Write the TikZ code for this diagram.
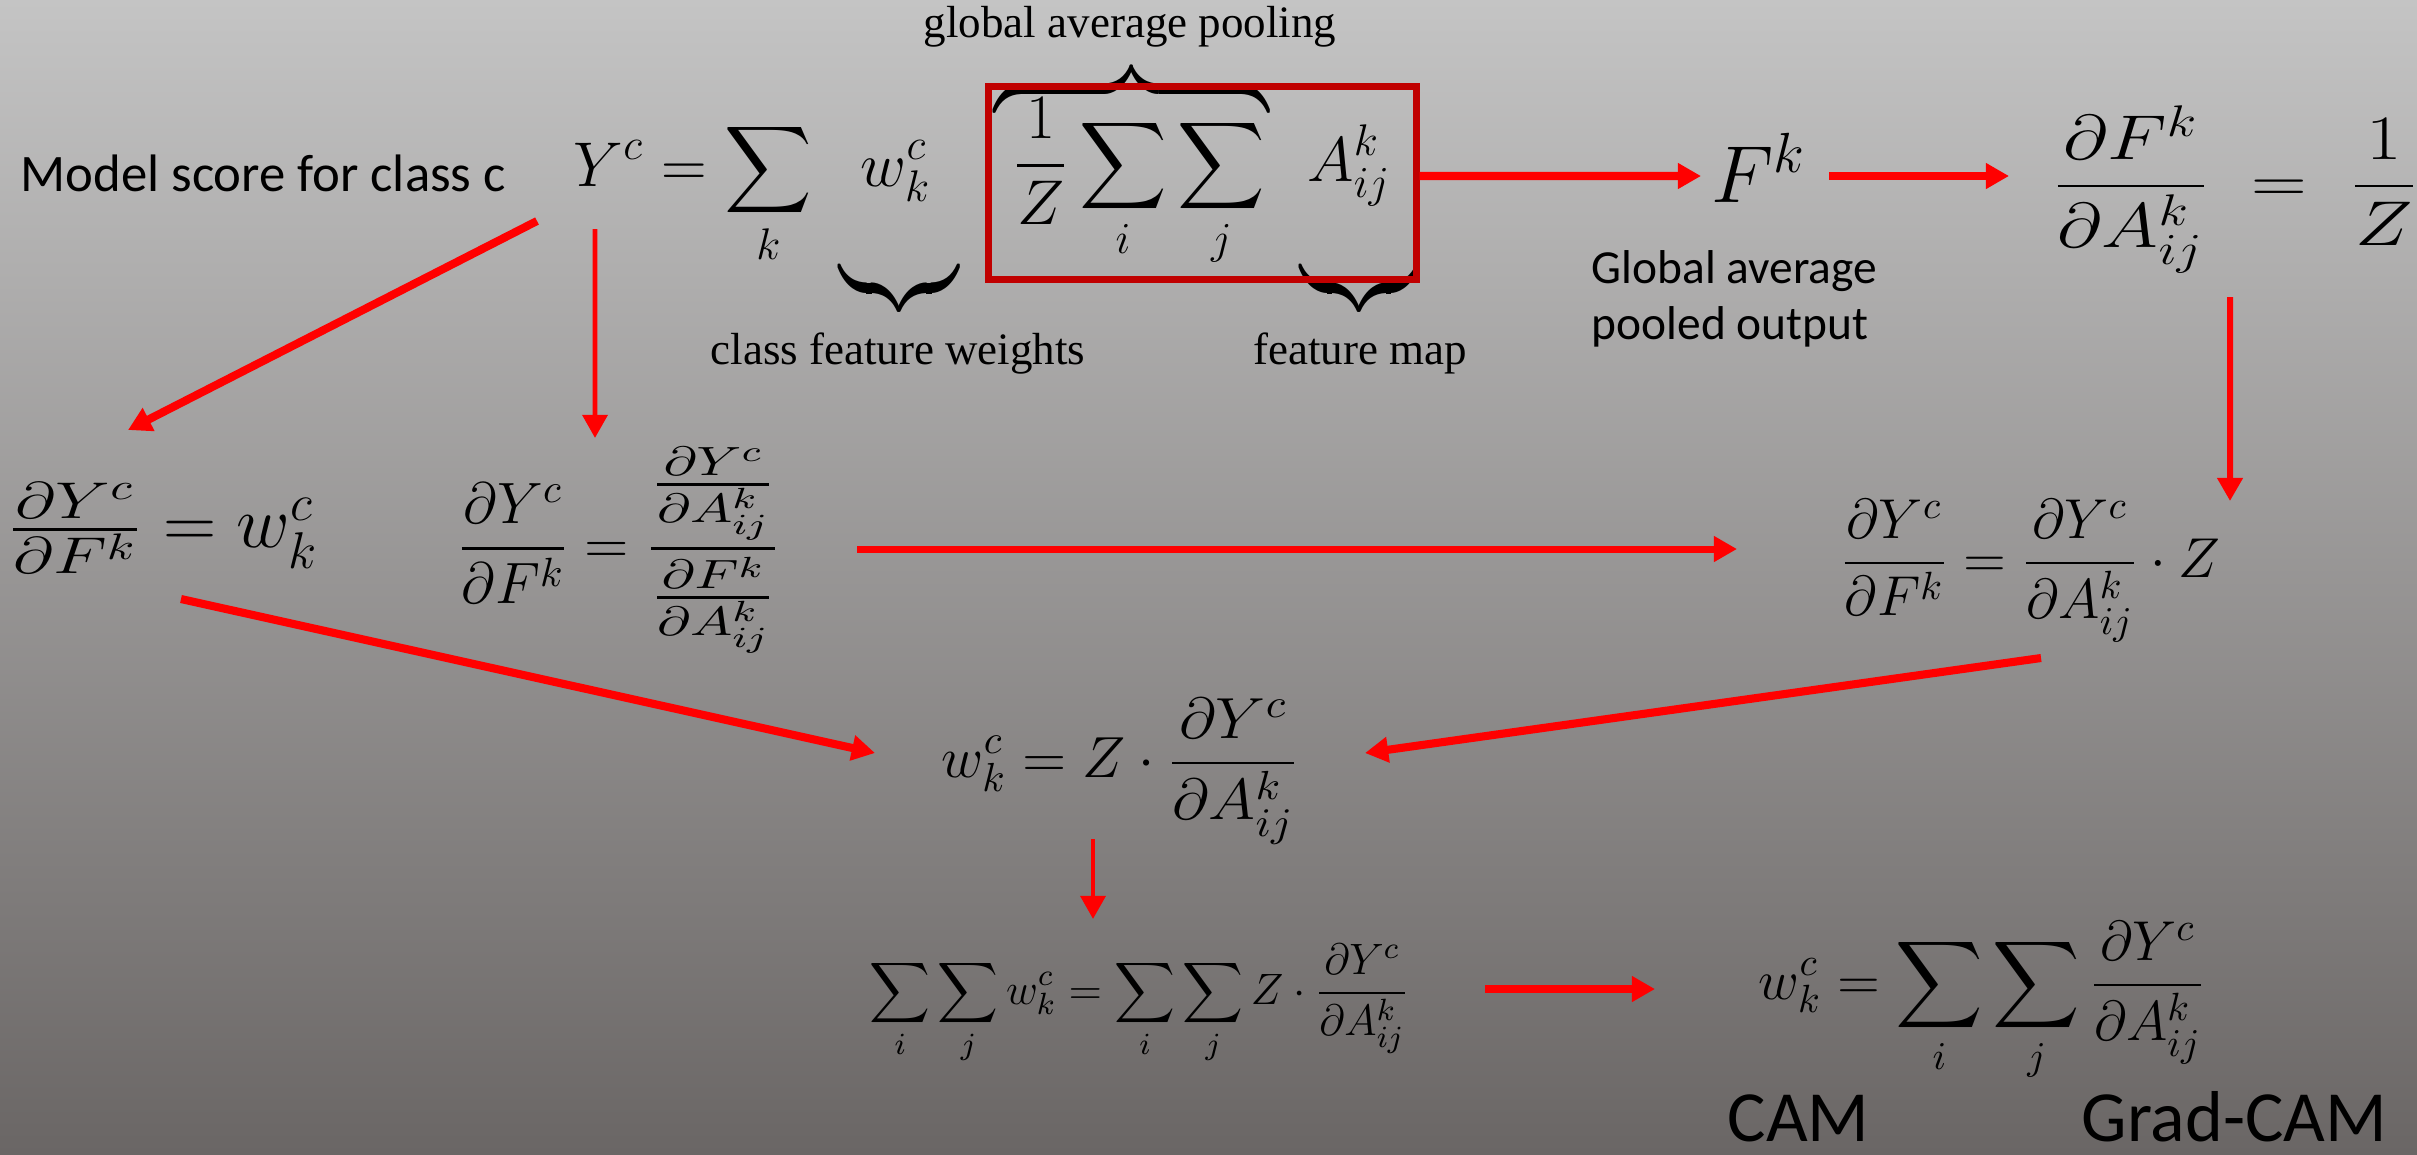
\RequirePackage{fix-cm}
\documentclass[tikz,border=0pt]{standalone}
\usepackage{amsmath}
\usepackage[no-math]{fontspec}
\newfontfamily\calibrif{Carlito}
\newfontfamily\timesf{Liberation Serif}
\usepackage{tikz}
\usetikzlibrary{arrows.meta,positioning,calc}
\definecolor{CamRed}{HTML}{FF0000}
\definecolor{CamBox}{HTML}{C00000}
\definecolor{CamTop}{HTML}{C4C4C4}
\definecolor{CamMid}{HTML}{9D9D9D}
\definecolor{CamBot}{HTML}{6A6665}

\begin{document}
\begin{tikzpicture}[
  every node/.style={inner sep=0pt},
  lbl/.style={font=\calibrif\fontsize{15}{18}\selectfont},
  note/.style={font=\timesf\fontsize{12.8}{15}\selectfont},
  tag/.style={font=\calibrif\fontsize{20.5}{24}\selectfont},
  eq/.style={font=\fontsize{#1}{#1}\selectfont},
  brace/.style={font=\fontsize{18}{22}\selectfont},
  poolbox/.style={draw=CamBox, line width=2pt, minimum width=4.28cm,
                  minimum height=1.93cm, font=\fontsize{18}{22}\selectfont},
  arr/.style={draw=CamRed, line width=2.3pt,
              -{Triangle[length=6.6pt,width=7pt]}},
  arrthin/.style={arr, line width=1.4pt}
]

% background
\shade[top color=CamTop, middle color=CamMid, bottom color=CamBot]
  (0,0) rectangle (24.17,-11.54);
\useasboundingbox (0,0) rectangle (24.17,-11.54);

% model score row
\node[lbl, anchor=base west] (score) at (0.20,-1.91) {Model score for class c};
\node[eq=18, anchor=base west] (yc) at (5.73,-1.86)
  {$\displaystyle Y^c = \sum_k \hspace{0.6em} w^c_k$};

% braces and their notes
\node[brace, anchor=south] (bpool) at (11.315,-1.10)
  {\scalebox{1}[1.45]{$\overbrace{\hspace{2.75cm}}$}};
\node[brace, anchor=north] (bw) at (8.99,-2.67)
  {\scalebox{1}[1.45]{$\underbrace{\hspace{1.2cm}}$}};
\node[brace, anchor=north] (ba) at (13.59,-2.67)
  {\scalebox{1}[1.45]{$\underbrace{\hspace{1.18cm}}$}};
\node[note, anchor=base] (gap) at (11.30,-0.37) {global average pooling};
\node[note, anchor=base] (cfw) at (8.98,-3.64) {class feature weights};
\node[note, anchor=base] (fmap) at (13.60,-3.64) {feature map};

% pooled term
\node[poolbox] (pool) at (12.02,-1.83)
  {$\displaystyle \frac{1}{Z}\sum_i\sum_j \hspace{0.5em} A^k_{ij}$};

\node[eq=23, anchor=base west] (fk) at (17.11,-2.02) {$F^k$};
\node[eq=18, anchor=base west] (dfda) at (20.52,-2.02)
  {\scalebox{1.22}[1]{$\displaystyle \frac{\partial F^k}{\partial A^k_{ij}} \;=\; \frac{1}{Z}$}};
\node[lbl, font=\calibrif\fontsize{13.5}{15.9}\selectfont, anchor=north west,
      align=left] (gapout) at (15.91,-2.50) {Global average\\pooled output};

% gradients
\node[eq=21, anchor=base west] (dydf1) at (0.07,-5.475)
  {$\scalebox{1.35}[1]{$\tfrac{\partial Y^c}{\partial F^k}$} = w^c_k$};
\node[eq=16.6, anchor=base west] (dydf2) at (4.57,-5.63)
  {$\displaystyle \frac{\partial Y^c}{\partial F^k} =
    \scalebox{1.38}[1]{$\displaystyle
      \frac{\frac{\partial Y^c}{\partial A^k_{ij}}}{\frac{\partial F^k}{\partial A^k_{ij}}}$}$};
\node[eq=16, anchor=base west] (dydf3) at (18.40,-5.77)
  {$\displaystyle \frac{\partial Y^c}{\partial F^k} = \frac{\partial Y^c}{\partial A^k_{ij}} \cdot Z$};
\node[eq=16.5, anchor=base west] (wz) at (9.41,-7.775)
  {$\displaystyle w^c_k = Z \cdot
    \scalebox{1.1}[1]{$\displaystyle\frac{\partial Y^c}{\partial A^k_{ij}}$}$};
\node[eq=12.5, anchor=base west] (sumeq) at (8.69,-10.04)
  {$\displaystyle \sum_i\sum_j w^c_k = \sum_i\sum_j Z \cdot \frac{\partial Y^c}{\partial A^k_{ij}}$};
\node[eq=16, anchor=base west] (gradcam) at (17.58,-9.99)
  {$\displaystyle w^c_k = \sum_i\sum_j \frac{\partial Y^c}{\partial A^k_{ij}}$};

\node[tag, anchor=base west] (cam) at (17.27,-11.41) {CAM};
\node[tag, anchor=base west] (gcam) at (20.81,-11.41) {Grad-CAM};

% arrows
\draw[arr] ([shift={(-0.36,-0.35)}]yc.base west) -- ([shift={(1.21,1.175)}]dydf1.base west);
\draw[arrthin] ([shift={(0.22,-0.43)}]yc.base west) -- ([shift={(1.38,1.25)}]dydf2.base west);
\draw[arr] ([yshift=0.07cm]pool.east) -- ([shift={(-0.10,0.26)}]fk.base west);
\draw[arr] ([shift={(1.18,0.26)}]fk.base west) -- ([shift={(-0.43,0.26)}]dfda.base west);
\draw[arrthin, line width=1.7pt] ([shift={(1.78,-0.95)}]dfda.base west)
  -- ([shift={(3.90,0.76)}]dydf3.base west);
\draw[arr, line width=2pt] ([shift={(4.00,0.14)}]dydf2.base west)
  -- ([shift={(-1.03,0.28)}]dydf3.base west);
\draw[arr] ([shift={(1.74,-0.515)}]dydf1.base west) -- ([shift={(-0.66,0.245)}]wz.base west);
\draw[arr] ([shift={(2.01,-0.81)}]dydf3.base west) -- ([shift={(4.24,0.245)}]wz.base west);
\draw[arrthin] ([shift={(1.52,-0.615)}]wz.base west) -- ([shift={(2.24,0.85)}]sumeq.base west);
\draw[arr] ([shift={(6.16,0.15)}]sumeq.base west) -- ([shift={(-1.03,0.10)}]gradcam.base west);

\end{tikzpicture}
\end{document}
